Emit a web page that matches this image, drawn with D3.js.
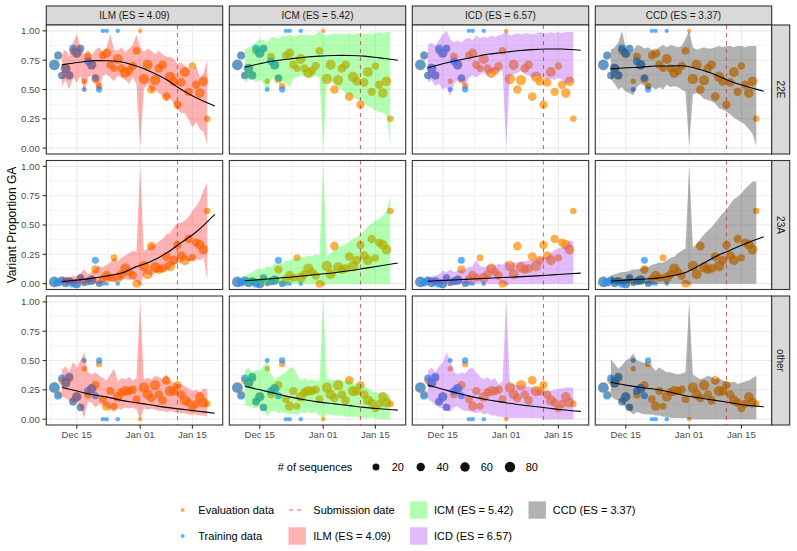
<!DOCTYPE html>
<html>
<head>
<meta charset="utf-8">
<script src="https://cdn.jsdelivr.net/npm/d3@7"></script>
<style>
  body { margin: 0; background: #fff; }
  text { font-family: "Liberation Sans", Arial, sans-serif; }
</style>
</head>
<body>
<div id="chart"></div>
<script>
// facets
const variants = ['22E', '23A', 'other'];
const models = ['ILM', 'ICM', 'ICD', 'CCD'];
const modelLabels = ['ILM (ES = 4.09)', 'ICM (ES = 5.42)', 'ICD (ES = 6.57)', 'CCD (ES = 3.37)'];
const modelFills = ['#FF0000', '#00FF00', '#A020F0', '#000000'];

// days are counted from 2022-12-09
const startDate = new Date(2022, 11, 9);
const submissionDay = 33;
const xTickDates = [new Date(2022, 11, 15), new Date(2023, 0, 1), new Date(2023, 0, 15)];
const xTickLabels = ['Dec 15', 'Jan 01', 'Jan 15'];
const xMinorDates = [new Date(2022, 11, 8), new Date(2022, 11, 23, 12), new Date(2023, 0, 8), new Date(2023, 0, 23, 12)];
const yTicks = [0, 0.25, 0.5, 0.75, 1];
const yTickLabels = ['0.00', '0.25', '0.50', '0.75', '1.00'];
const yMinor = [0.125, 0.375, 0.625, 0.875];
const sizeLegend = [20, 40, 60, 80];

// evaluation data
const evalDays = [0,1,2,3,4,5,6,7,8,9,10,11,12,13,14,15,16,17,18,19,20,21,22,23,24,25,26,27,28,29,30,31,32,33,34,35,36,37,38,39,40,41];
const eval22E = [.71,.79,.62,.68,.62,.83,.81,.85,.57,.78, .71,.59,.53,.79,.81,.71,.68,.76,.68,.64, .66,.70,.83,1.0,.59,.71,.50,.58,.68,.71, .44,.61,.57,.37,.56,.65,.48,.70,.54,.47, .57,.25];
const eval23A = [.015,.01,.03,.01,.02,.01,0,.04,0,.02, .03,.12,0,.04,.07,.05,.22,.05,.08,.13, .10,.07,0,0,.15,.08,.32,.14,.12,.13, .23,.15,.20,.33,.24,.20,.38,.22,.35,.33, .29,.62];
const evalOther = [.27,.21,.33,.31,.35,.15,.19,.10,.43,.21, .26,.29,.47,.17,.11,.24,.11,.19,.23,.24, .24,.25,.17,0,.27,.21,.18,.29,.21,.16, .33,.24,.24,.29,.21,.16,.14,.09,.13,.19, .14,.13];
const evalN = [85,30,25,60,35,30,55,25,5,30, 55,40,14,30,55,35,20,70,40,70, 40,40,30,1,80,75,45,80,45,45, 45,80,50,40,45,70,40,25,40,65, 65,15];

// training data
const trainDays = [0,1,2,3,4,5,6,7,8,9,10,11,12,13,14,17];
const train22E = [.71,.79,.62,.68,.62,.85,.81,.85,.50,.74,.71,.60,.50,1,1,1];
const train23A = [.015,.01,.03,.01,.02,0,0,.05,0,.02,.03,.20,0,0,0,0];
const trainOther = [.27,.20,.35,.31,.36,.15,.19,.10,.50,.24,.26,.20,.50,0,0,0];
const trainN = [85,30,25,60,35,30,55,25,3,30,55,20,12,1,1,1];

// prediction intervals
const ribbonDays = [2,3,4,5,6,7,8,9,10,11,12,13,14,15,16,17,18,19,20,21,22,23,24,25,26,27,28,29,30,31,32,33,34,35,36,37,38,39,40,41];
const zeroLower = [0,0,0,0,0,0,0,0,0,0, 0,0,0,0,0,0,0,0,0,0, 0,0,0,0,0,0,0,0,0,0, 0,0,0,0,0,0,0,0,0,0];

const ilm22E_hi = [.80,.84,.78,.90,.97,.86,.80,.84,.79,.84, .86,.82,.86,.97,.84,.83,.86,.82,.85,.88, .97,.86,.82,.85,.83,.80,.83,.80,.78,.78, .76,.72,.73,.70,.68,.66,.70,.60,.64,.75];
const ilm22E_lo = [.53,.58,.50,.60,.56,.62,.47,.60,.62,.55, .48,.62,.63,.60,.57,.62,.60,.58,.55,.60, .55,.02,.50,.55,.48,.50,.47,.45,.40,.43, .38,.33,.30,.30,.24,.18,.22,.16,.14,.02];
const ilm23A_hi = [.05,.06,.05,.07,.06,.09,.12,.08,.10,.13, .15,.14,.16,.18,.22,.19,.22,.24,.26,.28, .27,1.0,.28,.30,.34,.33,.36,.38,.42,.43, .48,.52,.52,.54,.57,.62,.66,.71,.80,.86];
const ilm23A_lo = [0,0,0,0,0,0,0,.01,.01,0, 0,.01,.02,.02,.01,.03,.03,.04,.03,.04, .02,0,.08,.08,.07,.09,.10,.10,.11,.13, .16,.17,.18,.20,.19,.20,.21,.20,.22,.03];
const ilmOth_hi = [.42,.45,.40,.49,.44,.50,.57,.40,.38,.40, .37,.35,.33,.38,.43,.32,.35,.34,.36,.33, .35,.99,.34,.35,.34,.37,.36,.34,.38,.33, .31,.30,.30,.28,.26,.24,.25,.23,.26,.25];
const ilmOth_lo = [.19,.18,.16,.14,.15,.10,.01,.15,.14,.10, .13,.12,.10,.08,.06,.09,.08,.10,.09,.10, .08,0,.09,.08,.09,.08,.07,.07,.06,.07, .06,.05,.05,.05,.04,.04,.04,.03,.03,.02];

const icm22E_hi = [.84,.86,.87,.90,.93,.92,.90,.94,.95,.93, .96,.95,.97,.95,.96,.97,.96,.97,.96,.97, 1.0,.97,.96,.97,.98,.97,.98,.97,.98,.97, .98,.98,.97,.98,.97,.98,.99,.98,.99,.99];
const icm22E_lo = [.56,.58,.60,.56,.58,.55,.48,.58,.60,.57, .57,.55,.52,.60,.60,.62,.62,.60,.60,.62, .60,0,.58,.57,.55,.51,.50,.47,.45,.44, .42,.40,.38,.36,.34,.32,.31,.30,.28,.02];
const icm23A_hi = [.06,.08,.10,.12,.13,.12,.15,.14,.17,.18, .17,.20,.19,.22,.21,.23,.22,.24,.23,.25, .24,1.0,.23,.26,.29,.31,.32,.34,.36,.38, .40,.42,.45,.49,.51,.54,.55,.58,.62,.75];
const icmOth_hi = [.42,.44,.40,.42,.41,.45,.50,.38,.34,.36, .38,.40,.44,.44,.38,.33,.35,.33,.34,.32, .33,1.0,.34,.34,.33,.34,.33,.32,.33,.31, .30,.31,.28,.26,.24,.23,.22,.22,.21,.21];
const icmOth_lo = [.12,.11,.10,.09,.11,.08,.02,.07,.07,.05, .06,.05,.04,.05,.03,.06,.05,.06,.05,.06, .03,0,.04,.04,.03,.03,.03,.02,.02,.02, .02,.01,.01,.01,.01,.01,0,0,0,0];

const icd22E_hi = [.88,.90,.87,.92,.97,1.0,.93,.90,.92,.90, .93,.94,.92,.96,.94,.95,.94,.96,.95,.96, .97,1.0,.96,.97,.98,.97,.98,.98,.97,.98, .99,.98,.98,.99,.98,.99,.98,.99,.99,.99];
const icd22E_lo = [.56,.58,.53,.55,.50,.52,.44,.55,.58,.56, .52,.60,.62,.60,.63,.64,.62,.64,.66,.65, .66,.02,.62,.63,.64,.66,.63,.62,.60,.61, .61,.60,.59,.59,.58,.60,.58,.55,.56,.56];
const icd23A_hi = [.05,.06,.07,.08,.11,.10,.12,.10,.11,.12, .12,.14,.15,.20,.15,.14,.15,.16,.15,.17, .16,.19,.17,.18,.18,.19,.19,.20,.20,.21, .22,.22,.23,.26,.29,.30,.31,.33,.37,.36];
const icdOth_hi = [.41,.44,.40,.45,.48,.57,.50,.40,.38,.40, .39,.43,.44,.40,.36,.34,.36,.33,.35,.30, .32,1.0,.30,.30,.29,.29,.28,.28,.27,.26, .25,.25,.24,.24,.25,.26,.26,.27,.27,.27];
const icdOth_lo = [.17,.15,.12,.10,.09,.08,.06,.10,.11,.08, .07,.07,.06,.05,.06,.04,.05,.03,.03,.02, .02,0,.01,.01,.01,.01,.01,.01,.01,.01, .01,0,0,0,0,0,0,0,0,0];

const ccd22E_hi = [.84,.86,.90,1.0,.85,.81,.84,.88,.87,.85, .86,.84,.83,.86,.88,.86,.88,.87,.86,.87, .93,1.0,.86,.84,.85,.86,.85,.85,.86,.87, .86,.87,.87,.86,.87,.87,.86,.87,.87,.87];
const ccd22E_lo = [.59,.55,.50,.52,.48,.47,.45,.52,.55,.53, .50,.52,.50,.52,.50,.54,.52,.53,.52,.50, .48,.02,.46,.47,.45,.42,.41,.40,.38,.34, .33,.31,.29,.26,.24,.22,.20,.16,.12,.02];
const ccd23A_hi = [.07,.08,.09,.10,.10,.11,.12,.12,.13,.15, .14,.16,.17,.18,.18,.20,.22,.23,.26,.28, .30,1.0,.31,.34,.38,.42,.45,.48,.52,.56, .60,.63,.68,.72,.74,.77,.81,.84,.87,.87];
const ccdOth_hi = [.51,.47,.43,.46,.50,.52,.56,.50,.49,.48, .47,.45,.41,.44,.42,.40,.40,.39,.38,.39, .40,.99,.38,.36,.34,.35,.37,.36,.34,.35, .33,.32,.31,.32,.30,.31,.32,.33,.35,.37];
const ccdOth_lo = [.19,.17,.16,.14,.10,.07,.04,.06,.05,.04, .04,.04,.03,.03,.02,.02,.01,.01,.01,.01, .01,0,0,0,0,0,0,0,0,0, 0,0,0,0,0,0,0,0,0,0];

// fitted lines
const lineDays = [2,6,10,14,18,22,26,30,34,38,43];
const ilmLine22E = [.71,.73,.745,.745,.735,.70,.65,.585,.50,.43,.36];
const ilmLine23A = [.017,.03,.045,.065,.09,.145,.19,.26,.35,.44,.59];
const ilmLineOth = [.27,.24,.21,.19,.16,.14,.12,.10,.085,.07,.05];
const icmLine22E = [.69,.72,.745,.76,.775,.785,.79,.79,.785,.77,.75];
const icmLine23A = [.025,.034,.045,.055,.067,.08,.093,.11,.13,.15,.176];
const icmLineOth = [.28,.25,.22,.19,.165,.145,.13,.115,.10,.088,.077];
const icdLine22E = [.685,.72,.75,.775,.80,.815,.83,.84,.845,.845,.835];
const icdLine23A = [.02,.027,.033,.04,.046,.052,.058,.064,.072,.08,.09];
const icdLineOth = [.29,.255,.22,.19,.165,.145,.125,.11,.095,.08,.066];
const ccdLine22E = [.676,.685,.69,.70,.70,.70,.67,.625,.57,.53,.485];
const ccdLine23A = [.023,.03,.038,.045,.065,.095,.16,.23,.285,.34,.40];
const ccdLineOth = [.314,.29,.27,.255,.23,.20,.18,.16,.14,.12,.105];

// lookup tables built from the arrays above
const evalByVariant = [eval22E, eval23A, evalOther];
const trainByVariant = [train22E, train23A, trainOther];
const ribbonHi = [
  [ilm22E_hi, ilm23A_hi, ilmOth_hi],
  [icm22E_hi, icm23A_hi, icmOth_hi],
  [icd22E_hi, icd23A_hi, icdOth_hi],
  [ccd22E_hi, ccd23A_hi, ccdOth_hi]
];
const ribbonLo = [
  [ilm22E_lo, ilm23A_lo, ilmOth_lo],
  [icm22E_lo, zeroLower, icmOth_lo],
  [icd22E_lo, zeroLower, icdOth_lo],
  [ccd22E_lo, zeroLower, ccdOth_lo]
];
const fitLines = [
  [ilmLine22E, ilmLine23A, ilmLineOth],
  [icmLine22E, icmLine23A, icmLineOth],
  [icdLine22E, icdLine23A, icdLineOth],
  [ccdLine22E, ccdLine23A, ccdLineOth]
];

// layout
const W = 797, H = 551;
const panelW = 176.4, panelH = 129, gapX = 6.6, gapY = 6.5;
const left0 = 46.3, top0 = 25, stripH = 19, stripW = 18;
const evalColor = '#FF8C00', trainColor = '#1E90FF', vlineColor = '#C0393F';

const dayToDate = d => d3.timeDay.offset(startDate, d);

const span = 43 * 0.05;
const x = d3.scaleTime()
  .domain([d3.timeHour.offset(startDate, -span * 24), d3.timeHour.offset(dayToDate(43), span * 24)])
  .range([0, panelW]);
const y = d3.scaleLinear().domain([-0.05, 1.05]).range([panelH, 0]);
const r = d3.scaleSqrt().domain([1, 90]).range([2.2, 5.4]);

const svg = d3.select('#chart').append('svg')
  .attr('width', W).attr('height', H)
  .style('background', '#fff');

models.forEach((m, ci) => {
  const px = left0 + ci * (panelW + gapX);

  // top strip
  svg.append('rect')
    .attr('x', px).attr('y', top0 - stripH)
    .attr('width', panelW).attr('height', stripH)
    .attr('fill', '#D9D9D9').attr('stroke', '#333').attr('stroke-width', 1.1);
  svg.append('text')
    .attr('x', px + panelW / 2).attr('y', top0 - stripH / 2 + 3.5)
    .attr('text-anchor', 'middle')
    .attr('font-size', 10).attr('fill', '#1A1A1A')
    .text(modelLabels[ci]);

  variants.forEach((v, ri) => {
    const py = top0 + ri * (panelH + gapY);
    const g = svg.append('g').attr('transform', `translate(${px},${py})`);

    g.append('rect').attr('width', panelW).attr('height', panelH).attr('fill', '#fff');

    // grid
    g.selectAll('.vminor').data(xMinorDates.filter(d => x(d) > 0 && x(d) < panelW)).enter()
      .append('line')
      .attr('x1', d => x(d)).attr('x2', d => x(d))
      .attr('y1', 0).attr('y2', panelH)
      .attr('stroke', '#EBEBEB').attr('stroke-width', 0.55);
    g.selectAll('.hminor').data(yMinor).enter()
      .append('line')
      .attr('x1', 0).attr('x2', panelW)
      .attr('y1', d => y(d)).attr('y2', d => y(d))
      .attr('stroke', '#EBEBEB').attr('stroke-width', 0.55);
    g.selectAll('.vmajor').data(xTickDates).enter()
      .append('line')
      .attr('x1', d => x(d)).attr('x2', d => x(d))
      .attr('y1', 0).attr('y2', panelH)
      .attr('stroke', '#EBEBEB').attr('stroke-width', 1.1);
    g.selectAll('.hmajor').data(yTicks).enter()
      .append('line')
      .attr('x1', 0).attr('x2', panelW)
      .attr('y1', d => y(d)).attr('y2', d => y(d))
      .attr('stroke', '#EBEBEB').attr('stroke-width', 1.1);

    // evaluation points, then training points
    const evalPts = evalDays.map((d, i) => ({ d, p: evalByVariant[ri][i], n: evalN[i] }));
    g.selectAll('.ev').data(evalPts).enter()
      .append('circle')
      .attr('cx', d => x(dayToDate(d.d))).attr('cy', d => y(d.p))
      .attr('r', d => r(d.n))
      .attr('fill', evalColor).attr('fill-opacity', 0.7);

    const trainPts = trainDays.map((d, i) => ({ d, p: trainByVariant[ri][i], n: trainN[i] }));
    g.selectAll('.tr').data(trainPts).enter()
      .append('circle')
      .attr('cx', d => x(dayToDate(d.d))).attr('cy', d => y(d.p))
      .attr('r', d => r(d.n))
      .attr('fill', trainColor).attr('fill-opacity', 0.7);

    // ribbon
    const rib = ribbonDays.map((d, i) => ({ d, lo: ribbonLo[ci][ri][i], hi: ribbonHi[ci][ri][i] }));
    g.append('path')
      .datum(rib)
      .attr('d', d3.area()
        .x(d => x(dayToDate(d.d)))
        .y0(d => y(d.lo))
        .y1(d => y(d.hi)))
      .attr('fill', modelFills[ci]).attr('fill-opacity', 0.3);

    // fitted line
    const fit = lineDays.map((d, i) => ({ d, p: fitLines[ci][ri][i] }));
    g.append('path')
      .datum(fit)
      .attr('d', d3.line()
        .x(d => x(dayToDate(d.d)))
        .y(d => y(d.p))
        .curve(d3.curveCatmullRom))
      .attr('fill', 'none').attr('stroke', '#000').attr('stroke-width', 1.1);

    // submission date
    const sx = x(dayToDate(submissionDay));
    g.append('line')
      .attr('x1', sx).attr('x2', sx).attr('y1', 0).attr('y2', panelH)
      .attr('stroke', vlineColor).attr('stroke-opacity', 0.75)
      .attr('stroke-width', 1.1).attr('stroke-dasharray', '4,4');

    g.append('rect').attr('width', panelW).attr('height', panelH)
      .attr('fill', 'none').attr('stroke', '#333').attr('stroke-width', 1.1);

    // y axis on the first column
    if (ci === 0) {
      yTicks.forEach((t, k) => {
        g.append('line').attr('x1', -3.7).attr('x2', 0)
          .attr('y1', y(t)).attr('y2', y(t))
          .attr('stroke', '#333').attr('stroke-width', 1.1);
        g.append('text').attr('x', -6.5).attr('y', y(t) + 3.4)
          .attr('text-anchor', 'end').attr('font-size', 9.6).attr('fill', '#4D4D4D')
          .text(yTickLabels[k]);
      });
    }
    // x axis on the bottom row
    if (ri === variants.length - 1) {
      xTickDates.forEach((t, k) => {
        g.append('line').attr('x1', x(t)).attr('x2', x(t))
          .attr('y1', panelH).attr('y2', panelH + 3.7)
          .attr('stroke', '#333').attr('stroke-width', 1.1);
        g.append('text').attr('x', x(t)).attr('y', panelH + 13)
          .attr('text-anchor', 'middle').attr('font-size', 9.6).attr('fill', '#4D4D4D')
          .text(xTickLabels[k]);
      });
    }
    // right strip
    if (ci === models.length - 1) {
      svg.append('rect')
        .attr('x', px + panelW).attr('y', py)
        .attr('width', stripW).attr('height', panelH)
        .attr('fill', '#D9D9D9').attr('stroke', '#333').attr('stroke-width', 1.1);
      const tx = px + panelW + stripW / 2, ty = py + panelH / 2;
      svg.append('text')
        .attr('transform', `translate(${tx - 3.5},${ty}) rotate(90)`)
        .attr('text-anchor', 'middle')
        .attr('font-size', 10).attr('fill', '#1A1A1A')
        .text(v);
    }
  });
});

// y axis title
const plotMid = top0 + (3 * panelH + 2 * gapY) / 2;
svg.append('text')
  .attr('transform', `translate(16,${plotMid}) rotate(-90)`)
  .attr('text-anchor', 'middle').attr('font-size', 12).attr('fill', '#000')
  .text('Variant Proportion GA');

// size legend
const sizeY = 467;
svg.append('text').attr('x', 277.7).attr('y', sizeY + 4)
  .attr('font-size', 11).text('# of sequences');
const sizeX = [376, 420.7, 465, 510];
sizeLegend.forEach((n, i) => {
  svg.append('circle').attr('cx', sizeX[i]).attr('cy', sizeY).attr('r', r(n)).attr('fill', '#111');
  svg.append('text').attr('x', sizeX[i] + 15.7).attr('y', sizeY + 4)
    .attr('font-size', 11).text(n);
});

// colour legend
const row1 = 510, row2 = 536;
svg.append('circle').attr('cx', 182.7).attr('cy', row1).attr('r', 2).attr('fill', evalColor).attr('fill-opacity', 0.7);
svg.append('text').attr('x', 198.3).attr('y', row1 + 4).attr('font-size', 11).text('Evaluation data');
svg.append('circle').attr('cx', 182.7).attr('cy', row2).attr('r', 2).attr('fill', trainColor).attr('fill-opacity', 0.7);
svg.append('text').attr('x', 198.3).attr('y', row2 + 4).attr('font-size', 11).text('Training data');

svg.append('line').attr('x1', 289.3).attr('x2', 304.5).attr('y1', row1).attr('y2', row1)
  .attr('stroke', vlineColor).attr('stroke-opacity', 0.75).attr('stroke-width', 1.1)
  .attr('stroke-dasharray', '4,4');
svg.append('text').attr('x', 313.3).attr('y', row1 + 4).attr('font-size', 11).text('Submission date');

const swatches = [
  { ci: 0, x: 288.5, y: row2, tx: 313.3 },
  { ci: 1, x: 410, y: row1, tx: 434 },
  { ci: 2, x: 410, y: row2, tx: 434 },
  { ci: 3, x: 528.5, y: row1, tx: 552.7 }
];
swatches.forEach(s => {
  svg.append('rect').attr('x', s.x).attr('y', s.y - 8.7)
    .attr('width', 17.4).attr('height', 17.4)
    .attr('fill', modelFills[s.ci]).attr('fill-opacity', 0.3);
  svg.append('text').attr('x', s.tx).attr('y', s.y + 4).attr('font-size', 11)
    .text(modelLabels[s.ci]);
});
</script>
</body>
</html>
